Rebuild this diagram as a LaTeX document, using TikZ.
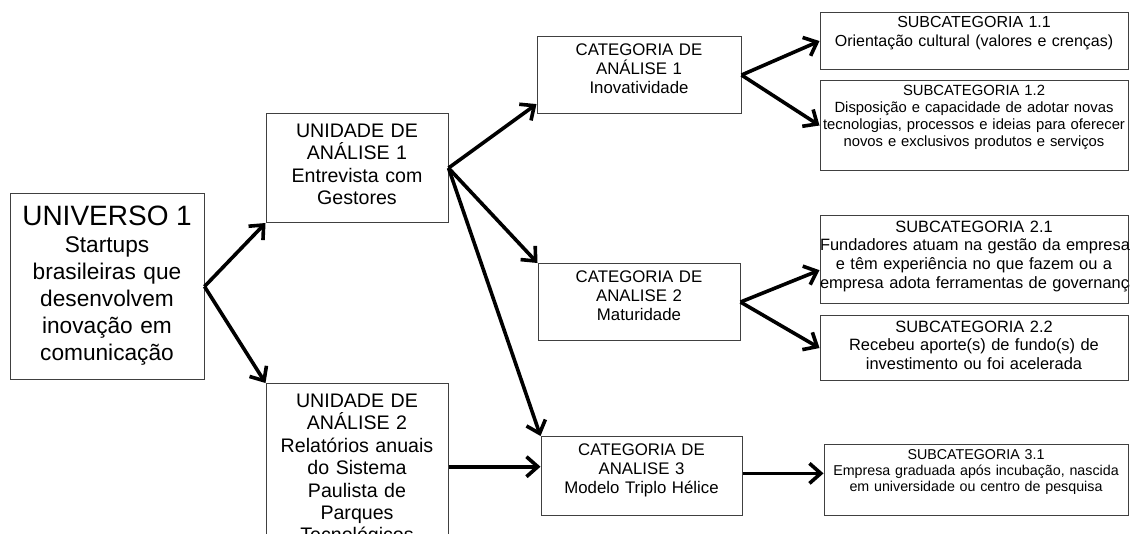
\documentclass[tikz,border=0pt]{standalone}
\usepackage{fontspec}
\setmainfont{Liberation Sans}
\usetikzlibrary{positioning, arrows.meta}

\begin{document}
\begin{tikzpicture}[x=0.75pt, y=-0.75pt,
  box/.style n args={3}{draw=black!75, line width=0.75pt, inner sep=0pt, align=center, anchor=north,
    text width=#1, text height=#2, text depth=#3},
  arr/.style={-{Straight Barb[length=8.5pt, width=15pt]}, line width=2.7pt}]
  \path[use as bounding box, clip] (0,0) rectangle (1130,533);

  \node[box={145.5pt}{24pt}{115.5pt}, font=\fontsize{17}{20.3}\selectfont] (univ) at (107,193)
    {{\fontsize{21}{24}\selectfont UNIVERSO 1}\\ Startups\\ brasileiras que\\ desenvolvem\\ inova\c{c}\~ao em\\ comunica\c{c}\~ao};

  \node[box={136.5pt}{18pt}{63.75pt}, font=\fontsize{14.7}{16.8}\selectfont] (unid1) at (357,113)
    {UNIDADE DE\\ ANÁLISE 1\\ Entrevista com\\ Gestores};
  \node[box={136.5pt}{18pt}{122pt}, font=\fontsize{14.7}{16.8}\selectfont] (unid2) at (357,383)
    {UNIDADE DE\\ ANÁLISE 2\\ Relatórios anuais\\ do Sistema\\ Paulista de\\ Parques\\ Tecnológicos};

  \node[box={153pt}{13.9pt}{43.9pt}, font=\fontsize{12.6}{14.3}\selectfont] (cat1) at (639,36)
    {CATEGORIA DE\\ ANÁLISE 1\\ Inovatividade};
  \node[box={151.5pt}{13.9pt}{43.9pt}, font=\fontsize{12.6}{14.3}\selectfont] (cat2) at (639,263)
    {CATEGORIA DE\\ ANALISE 2\\ Maturidade};
  \node[box={150.75pt}{13.9pt}{45.4pt}, font=\fontsize{12.6}{14.3}\selectfont] (cat3) at (641.5,436)
    {CATEGORIA DE\\ ANALISE 3\\ Modelo Triplo Hélice};

  \node[box={231pt}{11.6pt}{31.2pt}, font=\fontsize{12}{13.6}\selectfont] (sub11) at (974,12)
    {SUBCATEGORIA 1.1\\ Orientação cultural (valores e crenças)};
  \node[box={231pt}{11pt}{56.5pt}, font=\fontsize{11.1}{12.75}\selectfont] (sub12) at (974,80)
    {SUBCATEGORIA 1.2\\ Disposição e capacidade de adotar novas\\ \mbox{tecnologias, processos e ideias para oferecer}\\ novos e exclusivos produtos e serviços};
  \node[box={231pt}{12.4pt}{53.6pt}, font=\fontsize{12.3}{14.1}\selectfont] (sub21) at (974,215)
    {SUBCATEGORIA 2.1\\ \mbox{Fundadores atuam na gestão da empresa}\\ e têm experiência no que fazem ou a\\ \mbox{empresa adota ferramentas de governança}};
  \node[box={231pt}{12.4pt}{36.4pt}, font=\fontsize{12.3}{14.1}\selectfont] (sub22) at (974,315)
    {SUBCATEGORIA 2.2\\ Recebeu aporte(s) de fundo(s) de\\ investimento ou foi acelerada};
  \node[box={228pt}{11pt}{42.2pt}, font=\fontsize{10.7}{12}\selectfont] (sub31) at (976,444)
    {SUBCATEGORIA 3.1\\ \mbox{Empresa graduada após incubação, nascida}\\ em universidade ou centro de pesquisa};

  \draw[arr] (univ.east) -- (unid1.south west);
  \draw[arr] (univ.east) -- (unid2.north west);
  \draw[arr] (unid1.east) -- ([yshift=7.5pt]cat1.south west);
  \draw[arr] (unid1.east) -- (cat2.north west);
  \draw[arr] (unid1.east) -- (cat3.north west);
  \coordinate (c3in) at ([yshift=7pt]cat3.west);
  \draw[arr] (c3in -| unid2.east) -- (c3in);
  \draw[arr] (cat1.east) -- (sub11.west);
  \draw[arr] (cat1.east) -- (sub12.west);
  \draw[arr] (cat2.east) -- ([yshift=-8pt]sub21.west);
  \draw[arr] (cat2.east) -- (sub22.west);
  \coordinate (c31) at ([yshift=2pt]cat3.east);
  \draw[arr] (c31) -- (c31 -| sub31.west);
\end{tikzpicture}
\end{document}
